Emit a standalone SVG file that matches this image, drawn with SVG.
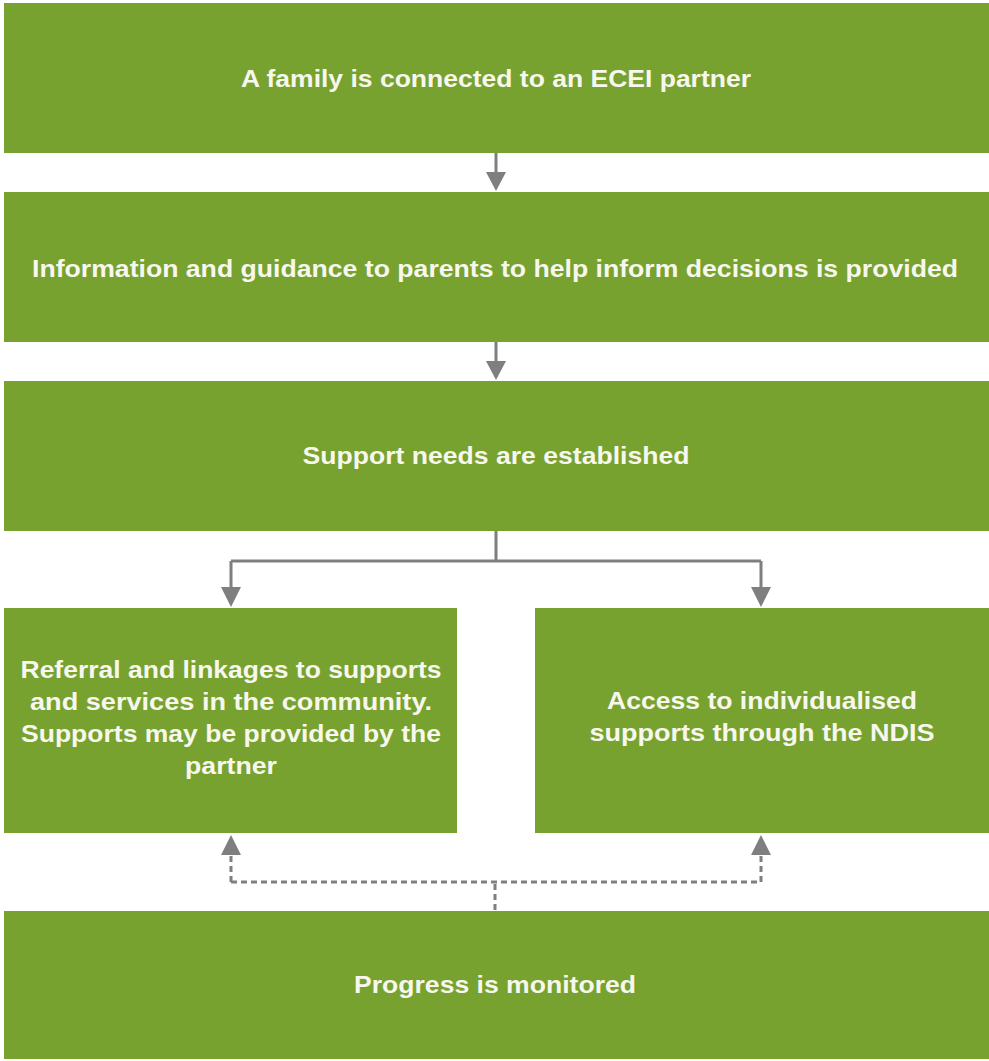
<svg xmlns="http://www.w3.org/2000/svg" width="989" height="1061" viewBox="0 0 989 1061">
<style>
.box{fill:#77a22f;}
.t{font-family:"Liberation Sans",Arial,sans-serif;font-weight:bold;font-size:24.5px;fill:#f7f7ee;text-anchor:middle;}
.c{fill:none;stroke:#7f7f7f;stroke-width:3;}
.d{fill:none;stroke:#7f7f7f;stroke-width:3;stroke-dasharray:6,4;}
.ah{fill:#7f7f7f;}
</style>
<rect width="989" height="1061" fill="#ffffff"/>
<g id="connectors">
<path class="c" d="M496,153 V172" />
<path class="ah" d="M486,172 L506,172 L496,191 Z"/>
<path class="c" d="M496,342 V361" />
<path class="ah" d="M486,361 L506,361 L496,380 Z"/>
<path class="c" d="M496,531 V561 M231,561 H761 M231,561 V588 M761,561 V588" />
<path class="ah" d="M221,587 L241,587 L231,607 Z"/>
<path class="ah" d="M751,587 L771,587 L761,607 Z"/>
<path class="d" d="M495,910 V882 M231,882 H761 M231,882 V855 M761,882 V855" />
<path class="ah" d="M221,855 L241,855 L231,835 Z"/>
<path class="ah" d="M751,855 L771,855 L761,835 Z"/>
</g>
<g id="node1">
<rect class="box" x="4" y="3" width="985" height="150"/>
<text class="t" x="496" y="87" textLength="510" lengthAdjust="spacingAndGlyphs">A family is connected to an ECEI partner</text>
</g>
<g id="node2">
<rect class="box" x="4" y="192" width="985" height="150"/>
<text class="t" x="495" y="277" textLength="926" lengthAdjust="spacingAndGlyphs">Information and guidance to parents to help inform decisions is provided</text>
</g>
<g id="node3">
<rect class="box" x="4" y="381" width="985" height="150"/>
<text class="t" x="496" y="464" textLength="387" lengthAdjust="spacingAndGlyphs">Support needs are established</text>
</g>
<g id="node4">
<rect class="box" x="4" y="608" width="453" height="225"/>
<text class="t" x="231" y="678" textLength="421" lengthAdjust="spacingAndGlyphs">Referral and linkages to supports</text>
<text class="t" x="231" y="710" textLength="402" lengthAdjust="spacingAndGlyphs">and services in the community.</text>
<text class="t" x="231" y="742" textLength="420" lengthAdjust="spacingAndGlyphs">Supports may be provided by the</text>
<text class="t" x="231" y="774" textLength="92" lengthAdjust="spacingAndGlyphs">partner</text>
</g>
<g id="node5">
<rect class="box" x="535" y="608" width="454" height="225"/>
<text class="t" x="762" y="709" textLength="310" lengthAdjust="spacingAndGlyphs">Access to individualised</text>
<text class="t" x="762" y="741" textLength="345" lengthAdjust="spacingAndGlyphs">supports through the NDIS</text>
</g>
<g id="node6">
<rect class="box" x="4" y="911" width="985" height="148"/>
<text class="t" x="495" y="993" textLength="282" lengthAdjust="spacingAndGlyphs">Progress is monitored</text>
</g>
</svg>
